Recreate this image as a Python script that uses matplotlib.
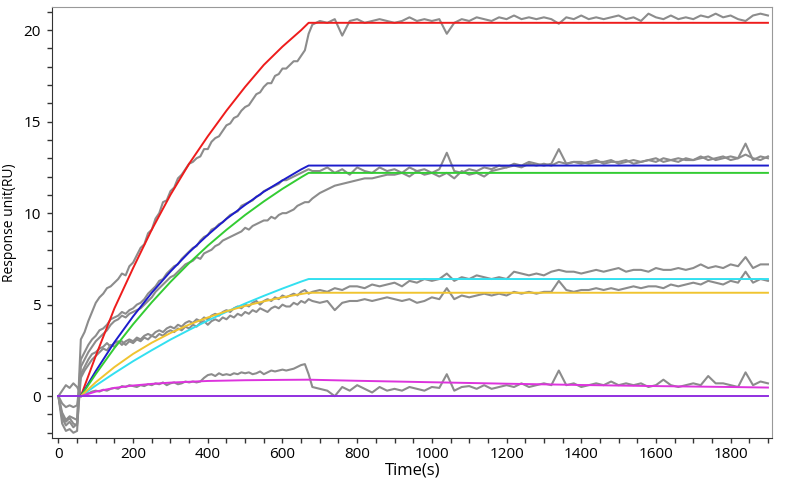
import numpy as np
import matplotlib
matplotlib.use("Agg")
import matplotlib.pyplot as plt
from matplotlib.ticker import MultipleLocator

plt.rcParams['font.family'] = ['Open Sans', 'DejaVu Sans']

# raw sensorgram sampling: 0-680 s every 10 s, 700-1900 s every 20 s
t_a = np.arange(0, 690, 10)
t_d = np.arange(700, 1901, 20)

# --- raw (grey) curves ---
red_raw_a = [0.0, -1.2, -1.6, -1.4, -1.7, -1.5,
             3.1, 3.5, 4.1, 4.6, 5.1, 5.4, 5.6, 5.9, 6.0, 6.2,
             6.4, 6.7, 6.6, 7.1, 7.3, 7.7, 8.1, 8.3, 8.9, 9.1,
             9.7, 10.0, 10.6, 10.7, 11.2, 11.4, 11.9, 12.1, 12.4, 12.7,
             12.8, 13.0, 13.1, 13.5, 13.5, 13.9, 14.1, 14.2, 14.5, 14.8,
             14.9, 15.2, 15.3, 15.6, 15.8, 15.9, 16.2, 16.5, 16.6, 16.9,
             17.1, 17.1, 17.5, 17.6, 17.9, 17.9, 18.1, 18.3, 18.3, 18.6,
             18.9, 19.8, 20.3]
red_raw_d = [20.5, 20.4, 20.6, 19.7, 20.5, 20.6, 20.4, 20.5, 20.6, 20.5,
             20.4, 20.5, 20.7, 20.5, 20.6, 20.5, 20.6, 19.8, 20.4, 20.6,
             20.5, 20.7, 20.6, 20.5, 20.7, 20.6, 20.8, 20.6, 20.7, 20.6,
             20.7, 20.6, 20.35, 20.7, 20.6, 20.8, 20.6, 20.7, 20.6, 20.7,
             20.8, 20.6, 20.7, 20.5, 20.9, 20.7, 20.6, 20.8, 20.6, 20.7,
             20.6, 20.8, 20.7, 20.9, 20.7, 20.8, 20.6, 20.5, 20.8, 20.9,
             20.8]

blue_raw_a = [0.0, -0.9, -1.3, -1.1, -1.2, -1.3,
              2.0, 2.4, 2.8, 3.1, 3.3, 3.6, 3.7, 3.9, 4.2, 4.3,
              4.4, 4.6, 4.5, 4.7, 4.8, 5.0, 5.1, 5.3, 5.6, 5.8,
              6.0, 6.3, 6.4, 6.7, 6.9, 7.1, 7.2, 7.5, 7.7, 7.9,
              8.1, 8.2, 8.5, 8.7, 8.8, 9.1, 9.2, 9.4, 9.5, 9.7,
              9.9, 10.0, 10.1, 10.4, 10.5, 10.6, 10.7, 10.9, 11.0, 11.2,
              11.3, 11.4, 11.5, 11.6, 11.8, 11.8, 11.9, 12.0, 12.1, 12.2,
              12.3, 12.4, 12.3]
blue_raw_d = [12.3, 12.5, 12.2, 12.4, 12.1, 12.5, 12.3, 12.2, 12.5, 12.3,
              12.4, 12.2, 12.5, 12.3, 12.4, 12.2, 12.4, 13.3, 12.3, 12.2,
              12.4, 12.3, 12.5, 12.4, 12.6, 12.5, 12.7, 12.6, 12.8, 12.7,
              12.6, 12.7, 13.5, 12.7, 12.8, 12.7, 12.8, 12.9, 12.7, 12.8,
              12.8, 12.9, 12.7, 12.8, 12.9, 12.8, 13.0, 12.9, 12.8, 13.0,
              12.9, 13.1, 12.9, 13.0, 13.1, 12.9, 13.0, 13.8, 12.9, 13.1,
              13.0]

green_raw_a = [0.0, -1.5, -1.9, -1.8, -2.0, -1.9,
               1.6, 2.0, 2.4, 2.7, 3.0, 3.2, 3.4, 3.6, 3.9, 4.1,
               4.2, 4.4, 4.3, 4.5, 4.6, 4.7, 4.8, 5.0, 5.2, 5.4,
               5.7, 5.9, 6.1, 6.3, 6.5, 6.6, 6.8, 7.0, 7.2, 7.3,
               7.4, 7.6, 7.5, 7.8, 7.9, 8.0, 8.2, 8.3, 8.5, 8.6,
               8.7, 8.8, 8.9, 9.0, 9.2, 9.1, 9.3, 9.4, 9.5, 9.6,
               9.6, 9.8, 9.7, 9.9, 10.0, 10.0, 10.1, 10.2, 10.4, 10.5,
               10.6, 10.6, 10.8]
green_raw_d = [11.1, 11.3, 11.5, 11.6, 11.7, 11.8, 11.9, 11.9, 12.0, 12.1,
               12.1, 12.2, 12.0, 12.3, 12.1, 12.2, 12.0, 12.2, 11.9, 12.3,
               12.1, 12.2, 12.0, 12.3, 12.4, 12.5, 12.6, 12.5, 12.7, 12.6,
               12.7, 12.6, 12.8, 12.7, 12.8, 12.8, 12.7, 12.8, 12.8, 12.9,
               12.7, 12.8, 12.9, 12.8, 12.9, 13.0, 12.8, 12.9, 13.0, 12.9,
               12.9, 13.0, 13.1, 12.9, 13.0, 13.1, 13.0, 13.2, 13.0, 12.9,
               13.1]

cyan_raw_a = [0.0, -0.4, -0.6, -0.5, -0.6, -0.5,
              1.2, 1.6, 2.0, 2.3, 2.4, 2.6, 2.7, 2.9, 2.7, 2.9,
              3.0, 2.8, 3.0, 3.1, 3.0, 3.2, 3.1, 3.3, 3.4, 3.3,
              3.5, 3.6, 3.5, 3.7, 3.8, 3.7, 3.9, 3.8, 4.0, 4.1,
              4.0, 4.2, 4.1, 4.3, 4.2, 4.4, 4.5, 4.4, 4.6, 4.7,
              4.6, 4.8, 4.9, 4.8, 5.0, 4.9, 5.1, 5.2, 5.0, 5.2,
              5.3, 5.2, 5.4, 5.3, 5.5, 5.4, 5.5, 5.6, 5.5, 5.7,
              5.8, 5.6, 5.7]
cyan_raw_d = [5.8, 5.7, 5.9, 5.8, 6.0, 6.0, 5.9, 6.1, 6.0, 6.1,
              6.2, 6.0, 6.3, 6.2, 6.4, 6.3, 6.4, 6.7, 6.3, 6.5,
              6.4, 6.6, 6.5, 6.4, 6.5, 6.4, 6.8, 6.7, 6.6, 6.7,
              6.6, 6.8, 6.9, 6.8, 6.8, 6.7, 6.8, 6.9, 6.8, 6.9,
              7.0, 6.8, 6.9, 6.9, 6.8, 7.0, 6.9, 6.9, 7.0, 6.9,
              7.0, 7.2, 7.0, 7.1, 7.0, 7.2, 7.1, 7.6, 7.0, 7.2,
              7.2]

yellow_raw_a = [0.0, -1.1, -1.4, -1.2, -1.5, -1.6,
                1.0, 1.4, 1.7, 2.0, 2.2, 2.4, 2.6, 2.5, 2.8, 2.7,
                2.9, 3.0, 2.8, 3.0, 2.9, 3.1, 3.0, 3.2, 3.1, 3.3,
                3.2, 3.4, 3.3, 3.5, 3.6, 3.5, 3.7, 3.6, 3.8, 3.7,
                3.9, 3.8, 4.0, 4.1, 3.9, 4.1, 4.2, 4.1, 4.3, 4.2,
                4.4, 4.3, 4.5, 4.4, 4.6, 4.5, 4.7, 4.6, 4.8, 4.7,
                4.6, 4.8, 4.9, 4.8, 5.0, 4.9, 4.9, 5.1, 5.0, 5.2,
                5.1, 5.3, 5.2]
yellow_raw_d = [5.1, 5.2, 4.7, 5.1, 5.2, 5.2, 5.3, 5.2, 5.3, 5.4,
                5.3, 5.2, 5.3, 5.1, 5.2, 5.4, 5.3, 5.9, 5.3, 5.5,
                5.4, 5.5, 5.6, 5.5, 5.6, 5.5, 5.7, 5.6, 5.7, 5.6,
                5.7, 5.7, 6.3, 5.8, 5.7, 5.8, 5.8, 5.9, 5.8, 5.9,
                5.8, 5.9, 6.0, 5.9, 6.0, 6.0, 5.9, 6.1, 6.0, 6.1,
                6.2, 6.1, 6.3, 6.2, 6.1, 6.3, 6.2, 6.8, 6.2, 6.4,
                6.3]

magenta_raw_a = [0.0, 0.3, 0.6, 0.45, 0.7, 0.5,
                 0.1, 0.2, 0.15, 0.25, 0.3, 0.25, 0.35, 0.3, 0.4, 0.45,
                 0.4, 0.55, 0.5, 0.6, 0.55, 0.5, 0.6, 0.55, 0.65, 0.6,
                 0.7, 0.65, 0.75, 0.6, 0.7, 0.75, 0.65, 0.7, 0.8, 0.75,
                 0.8, 0.75, 0.8, 1.0, 1.15, 1.2, 1.1, 1.25, 1.15, 1.2,
                 1.15, 1.25, 1.2, 1.3, 1.25, 1.3, 1.2, 1.25, 1.35, 1.2,
                 1.3, 1.4, 1.35, 1.4, 1.45, 1.4, 1.45, 1.5, 1.6, 1.7,
                 1.75, 1.2, 0.5]
magenta_raw_d = [0.4, 0.3, 0.0, 0.5, 0.3, 0.6, 0.4, 0.2, 0.5, 0.3,
                 0.4, 0.3, 0.5, 0.4, 0.3, 0.5, 0.45, 1.2, 0.3, 0.5,
                 0.55, 0.4, 0.6, 0.4, 0.5, 0.6, 0.5, 0.7, 0.5, 0.6,
                 0.7, 0.6, 1.4, 0.6, 0.7, 0.5, 0.6, 0.7, 0.6, 0.8,
                 0.6, 0.7, 0.6, 0.7, 0.5, 0.6, 0.9, 0.6, 0.5, 0.6,
                 0.7, 0.6, 1.1, 0.7, 0.7, 0.6, 0.5, 1.3, 0.6, 0.8,
                 0.7]

# --- fitted curves ---
fit_t = [60, 100, 150, 200, 250, 300, 350, 400, 450, 500, 550, 600, 650, 670, 1900]
red_fit = [0, 2.2, 4.8, 7.0, 9.1, 11.0, 12.7, 14.2, 15.6, 16.9, 18.1, 19.1, 20.0, 20.4, 20.4]
blue_fit = [0, 1.37, 2.95, 4.36, 5.65, 6.81, 7.86, 8.81, 9.69, 10.45, 11.17, 11.79, 12.39, 12.6, 12.6]
green_fit = [0, 1.21, 2.63, 3.93, 5.13, 6.24, 7.27, 8.22, 9.09, 9.90, 10.64, 11.33, 11.96, 12.2, 12.2]
cyan_fit = [0, 0.58, 1.26, 1.91, 2.51, 3.09, 3.62, 4.13, 4.61, 5.06, 5.48, 5.88, 6.26, 6.4, 6.4]
yellow_fit = [0, 0.76, 1.59, 2.31, 2.92, 3.45, 3.91, 4.30, 4.64, 4.93, 5.18, 5.40, 5.58, 5.65, 5.65]
magenta_t = [60, 100, 150, 200, 250, 300, 400, 500, 600, 670, 800, 1000, 1200, 1400, 1600, 1800, 1900]
magenta_fit = [0, 0.25, 0.45, 0.58, 0.67, 0.74, 0.83, 0.87, 0.89, 0.9, 0.84, 0.76, 0.68, 0.61, 0.55, 0.50, 0.47]
zero_t = [0, 1900]
zero_fit = [0, 0]

t_raw = np.concatenate([t_a, t_d])
raws = [(red_raw_a, red_raw_d), (blue_raw_a, blue_raw_d), (green_raw_a, green_raw_d),
        (cyan_raw_a, cyan_raw_d), (yellow_raw_a, yellow_raw_d), (magenta_raw_a, magenta_raw_d)]

fig = plt.figure(figsize=(7.89, 4.92), dpi=100)
ax = fig.add_axes([0.066, 0.11, 0.913, 0.876])

for a, d in raws:
    ax.plot(t_raw, a + d, color='#8c8c8c', lw=1.5, zorder=2)

ax.plot(fit_t, red_fit, color='#ee1c1c', lw=1.4, zorder=3)
ax.plot(fit_t, blue_fit, color='#1c1ccc', lw=1.4, zorder=3)
ax.plot(fit_t, green_fit, color='#33cc33', lw=1.4, zorder=3)
ax.plot(fit_t, cyan_fit, color='#33e0f0', lw=1.4, zorder=3)
ax.plot(fit_t, yellow_fit, color='#f0c430', lw=1.4, zorder=3)
ax.plot(magenta_t, magenta_fit, color='#dd33dd', lw=1.4, zorder=3)
ax.plot(zero_t, zero_fit, color='#9030e0', lw=1.4, zorder=3)

ax.set_xlim(-17, 1912)
ax.set_ylim(-2.28, 21.27)
ax.xaxis.set_major_locator(MultipleLocator(200))
ax.xaxis.set_minor_locator(MultipleLocator(50))
ax.yaxis.set_major_locator(MultipleLocator(5))
ax.yaxis.set_minor_locator(MultipleLocator(1))
ax.tick_params(which='both', direction='out', length=3.5, width=1, color='#333333',
               labelsize=11)
ax.tick_params(axis='x', pad=3.2)
ax.tick_params(axis='y', pad=4.5)

for side in ['left', 'bottom']:
    ax.spines[side].set_color('#333333')
for side in ['top', 'right']:
    ax.spines[side].set_color('#999999')

ax.set_xlabel('Time(s)', fontsize=12)
ax.xaxis.set_label_coords(0.5, -0.058)
ax.set_ylabel('Response unit(RU)', fontsize=10)
ax.yaxis.set_label_coords(-0.049, 0.5)

fig.savefig('out.png', dpi=100)
